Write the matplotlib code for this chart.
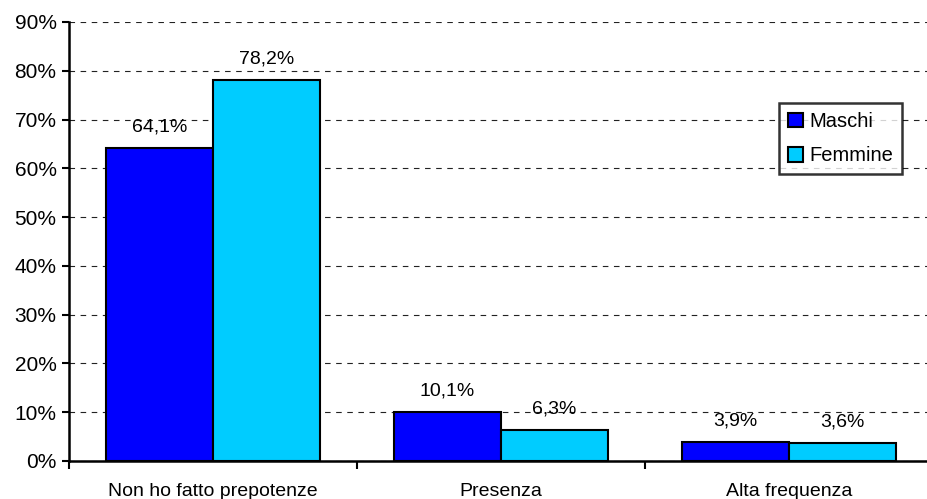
import matplotlib.pyplot as plt
import numpy as np

categories = ["Non ho fatto prepotenze", "Presenza", "Alta frequenza"]
maschi = [64.1, 10.1, 3.9]
femmine = [78.2, 6.3, 3.6]
series = ["Maschi", "Femmine"]
colors = ["#0000FF", "#00CCFF"]

plt.rcParams["font.family"] = ["Liberation Sans", "DejaVu Sans"]

fig = plt.figure(figsize=(9.27, 4.99), dpi=100)
ax = fig.add_axes([69 / 927, (499 - 461) / 499, 864 / 927, 439 / 499])

x = np.arange(len(categories)) + 0.5
w = 0.372
for vals, off, name, col in [(maschi, -w / 2, series[0], colors[0]),
                             (femmine, w / 2, series[1], colors[1])]:
    bars = ax.bar(x + off, vals, w, color=col, edgecolor="black",
                  linewidth=1.5, label=name, zorder=3)
    for b, v in zip(bars, vals):
        ax.annotate(f"{v:.1f}%".replace(".", ","),
                    (b.get_x() + b.get_width() / 2, v),
                    xytext=(0, 9), textcoords="offset points",
                    ha="center", va="bottom", fontsize=14)

ax.set_xlim(0, 3)
ax.set_ylim(0, 90)
ax.set_yticks(range(0, 91, 10))
ax.set_yticklabels([f"{t}%" for t in range(0, 91, 10)], fontsize=15)
ax.set_xticks([0, 1, 2, 3])
ax.set_xticklabels([])
ax.set_xticks(x, minor=True)
ax.set_xticklabels(categories, minor=True, fontsize=14)
ax.tick_params(axis="x", which="minor", length=0, pad=16)
ax.tick_params(axis="x", which="major", length=6, width=1.5, direction="out")
ax.tick_params(axis="y", length=5, width=1.5, direction="out", pad=4)

ax.grid(axis="y", color="#222222", linestyle=(0, (5, 5)), linewidth=0.8, zorder=0)
for s in ["top", "right"]:
    ax.spines[s].set_visible(False)
for s in ["left", "bottom"]:
    ax.spines[s].set_linewidth(1.8)
    ax.spines[s].set_zorder(4)

leg = ax.legend(loc="upper left", bbox_to_anchor=((779 - 69) / 864, (461 - 103) / 439),
                fontsize=14.5, frameon=True, fancybox=False, edgecolor="black",
                handlelength=0.75, handleheight=0.75, handletextpad=0.3,
                borderpad=0.45, labelspacing=0.75, borderaxespad=0)
leg.get_frame().set_linewidth(1.8)
leg.set_zorder(5)

fig.savefig("out.png", dpi=100)
